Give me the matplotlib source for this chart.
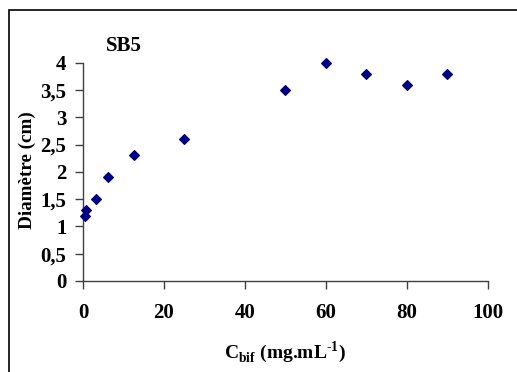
import matplotlib
matplotlib.use("Agg")
import matplotlib.pyplot as plt
from matplotlib.patches import Rectangle

# Donnees SB5
cbif = [0.39, 0.78, 3.125, 6.25, 12.5, 25, 50, 60, 70, 80, 90]
diametre = [1.2, 1.3, 1.5, 1.9, 2.3, 2.6, 3.5, 4.0, 3.8, 3.6, 3.8]
xticks = [0, 20, 40, 60, 80, 100]
yticks = [0, 0.5, 1, 1.5, 2, 2.5, 3, 3.5, 4]
ylabels = ["0", "0,5", "1", "1,5", "2", "2,5", "3", "3,5", "4"]

plt.rcParams['font.family'] = ['Liberation Serif', 'DejaVu Serif']
plt.rcParams['font.weight'] = 'bold'
plt.rcParams['mathtext.fontset'] = 'custom'
plt.rcParams['mathtext.rm'] = 'Liberation Serif:bold'
plt.rcParams['mathtext.bf'] = 'Liberation Serif:bold'

fig = plt.figure(figsize=(5.17, 3.72), dpi=100)
# cadre exterieur
fig.patches.append(Rectangle((8.5 / 517, -0.1), 1.2, 1.1 - 9.5 / 372,
                             transform=fig.transFigure, fill=False,
                             edgecolor='black', linewidth=1.2))

ax = fig.add_axes([83 / 517, 91 / 372, 404.7 / 517, 218.3 / 372])
ax.scatter(cbif, diametre, marker='D', s=24, color='#000080', zorder=3, clip_on=False)

ax.set_xlim(0, 100)
ax.set_ylim(0, 4)
ax.set_xticks(xticks)
ax.set_xticklabels([str(t) for t in xticks])
ax.set_yticks(yticks)
ax.set_yticklabels(ylabels)
ax.spines['top'].set_visible(False)
ax.spines['right'].set_visible(False)
for s in ['left', 'bottom']:
    ax.spines[s].set_color('#404040')
    ax.spines[s].set_linewidth(1.0)
ax.tick_params(axis='both', direction='out', length=6, color='#404040',
               labelsize=15, width=1.0)
ax.tick_params(axis='x', pad=10)
ax.tick_params(axis='y', pad=6)
for lab in ax.get_xticklabels() + ax.get_yticklabels():
    lab.set_fontweight('bold')

fig.text(124 / 517, 1 - 46 / 372, 'SB5', ha='center', va='center', fontsize=15, fontweight='bold')
fig.text(27 / 517, 1 - 170 / 372, 'Diamètre (cm)', ha='center', va='center',
         rotation=90, fontsize=13.8, fontweight='bold')
fig.text(285 / 517, 1 - 352 / 372, r'C$_{\mathrm{bif}}$ (mg.mL$^{\text{-1}}$)',
         ha='center', va='center', fontsize=14, fontweight='bold')

fig.savefig('out.png', dpi=100)
